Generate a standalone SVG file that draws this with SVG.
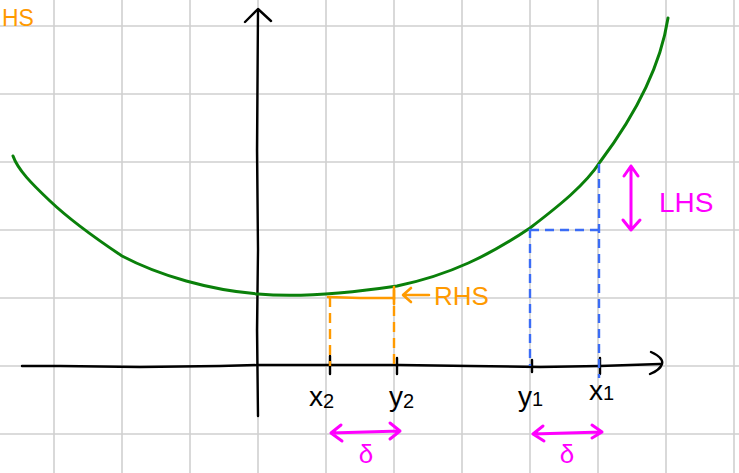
<svg xmlns="http://www.w3.org/2000/svg" width="739" height="473" viewBox="0 0 739 473">
<defs>
<style>
.grid{stroke:#d0d0d0;stroke-width:1.6;fill:none}
.axis{stroke:#000;stroke-width:2.4;fill:none;stroke-linecap:round;stroke-linejoin:round}
.curve{stroke:#0a800a;stroke-width:3;fill:none;stroke-linecap:round;stroke-linejoin:round}
.or{stroke:#ff9a00;stroke-width:2.6;fill:none;stroke-linecap:round;stroke-linejoin:round}
.ordash{stroke:#ff9a00;stroke-width:2.4;fill:none;stroke-dasharray:10 6}
.bl{stroke:#3b6cf5;stroke-width:2.4;fill:none;stroke-dasharray:9 6}
.mg{stroke:#ff00ff;stroke-width:3;fill:none;stroke-linecap:round;stroke-linejoin:round}
.lbl{font-family:"Liberation Sans",Arial,sans-serif;font-size:28px;fill:#000}
.sub{font-size:20px}
.otext{font-family:"Liberation Sans",Arial,sans-serif;font-size:26px;fill:#ff9a00}
.mtext{font-family:"Liberation Sans",Arial,sans-serif;font-size:28px;fill:#ff00ff}
.dtext{font-family:"Liberation Sans",Arial,sans-serif;font-size:26px;fill:#ff00ff}
</style>
</defs>
<rect width="739" height="473" fill="#fff"/>
<g id="grid">
<path class="grid" d="M54 0V473M122 0V473M190 0V473M258 0V473M326 0V473M394 0V473M462 0V473M530 0V473M598 0V473M666 0V473M734 0V473"/>
<path class="grid" d="M0 26H739M0 94H739M0 162H739M0 230H739M0 298H739M0 366H739M0 434H739"/>
</g>
<g id="axes">
<path class="axis" d="M22 366 L60 366 L140 367 L220 366 L258 365 L330 365 L400 365 L470 366 L540 367 L600 366 L660 364"/>
<path class="axis" d="M651 352 Q664 358 662 364 Q660 370 650 374"/>
<path class="axis" d="M258 416 L257 330 L258 250 L257 150 L258 10"/>
<path class="axis" d="M245 22 L258 9 L271 21"/>
<path class="axis" d="M330 356V374M397 358V374M532 360V372M600 358V374"/>
</g>
<g id="curve">
<path class="curve" d="M13 156 C18 170 32 184 50 201 C70 220 95 238 122 256 C160 276 210 290 258 294 C300 298 350 293 397 286 C450 275 490 255 530 228 C560 205 585 185 600 162 C630 122 660 70 668 18"/>
</g>
<g id="rhs">
<path class="ordash" d="M330 297 V366"/>
<path class="ordash" d="M394 290 V366"/>
<path class="or" d="M328 297 L360 298 L394 298"/>
<path class="or" d="M394 287 V304"/>
<path class="or" d="M429 295 H404 M411 288 L403 295 L411 302"/>
<text class="otext" x="434" y="305">RHS</text>
<text class="otext" x="2" y="26" style="font-size:23px">HS</text>
</g>
<g id="lhs">
<path class="bl" d="M530 229 V366"/>
<path class="bl" d="M599 164 V378"/>
<path class="bl" d="M530 230 H599"/>
<path class="mg" d="M631 166 V230 M624 176 L631 166 L638 176 M623 220 L631 230 L640 220"/>
<text class="mtext" x="659" y="212">LHS</text>
</g>
<g id="labels">
<text class="lbl" x="309" y="406">x<tspan class="sub" dy="2">2</tspan></text>
<text class="lbl" x="389" y="406">y<tspan class="sub" dy="2">2</tspan></text>
<text class="lbl" x="518" y="406">y<tspan class="sub" dy="0">1</tspan></text>
<text class="lbl" x="589" y="400">x<tspan class="sub" dy="0">1</tspan></text>
</g>
<g id="delta">
<path class="mg" d="M331 433 L400 431 M341 425 L331 433 L342 441 M390 423 L400 431 L390 439"/>
<text class="dtext" x="366" y="463" text-anchor="middle">δ</text>
<path class="mg" d="M533 434 L602 432 M543 426 L533 434 L544 441 M592 425 L602 432 L592 438"/>
<text class="dtext" x="567" y="463" text-anchor="middle">δ</text>
</g>
</svg>
